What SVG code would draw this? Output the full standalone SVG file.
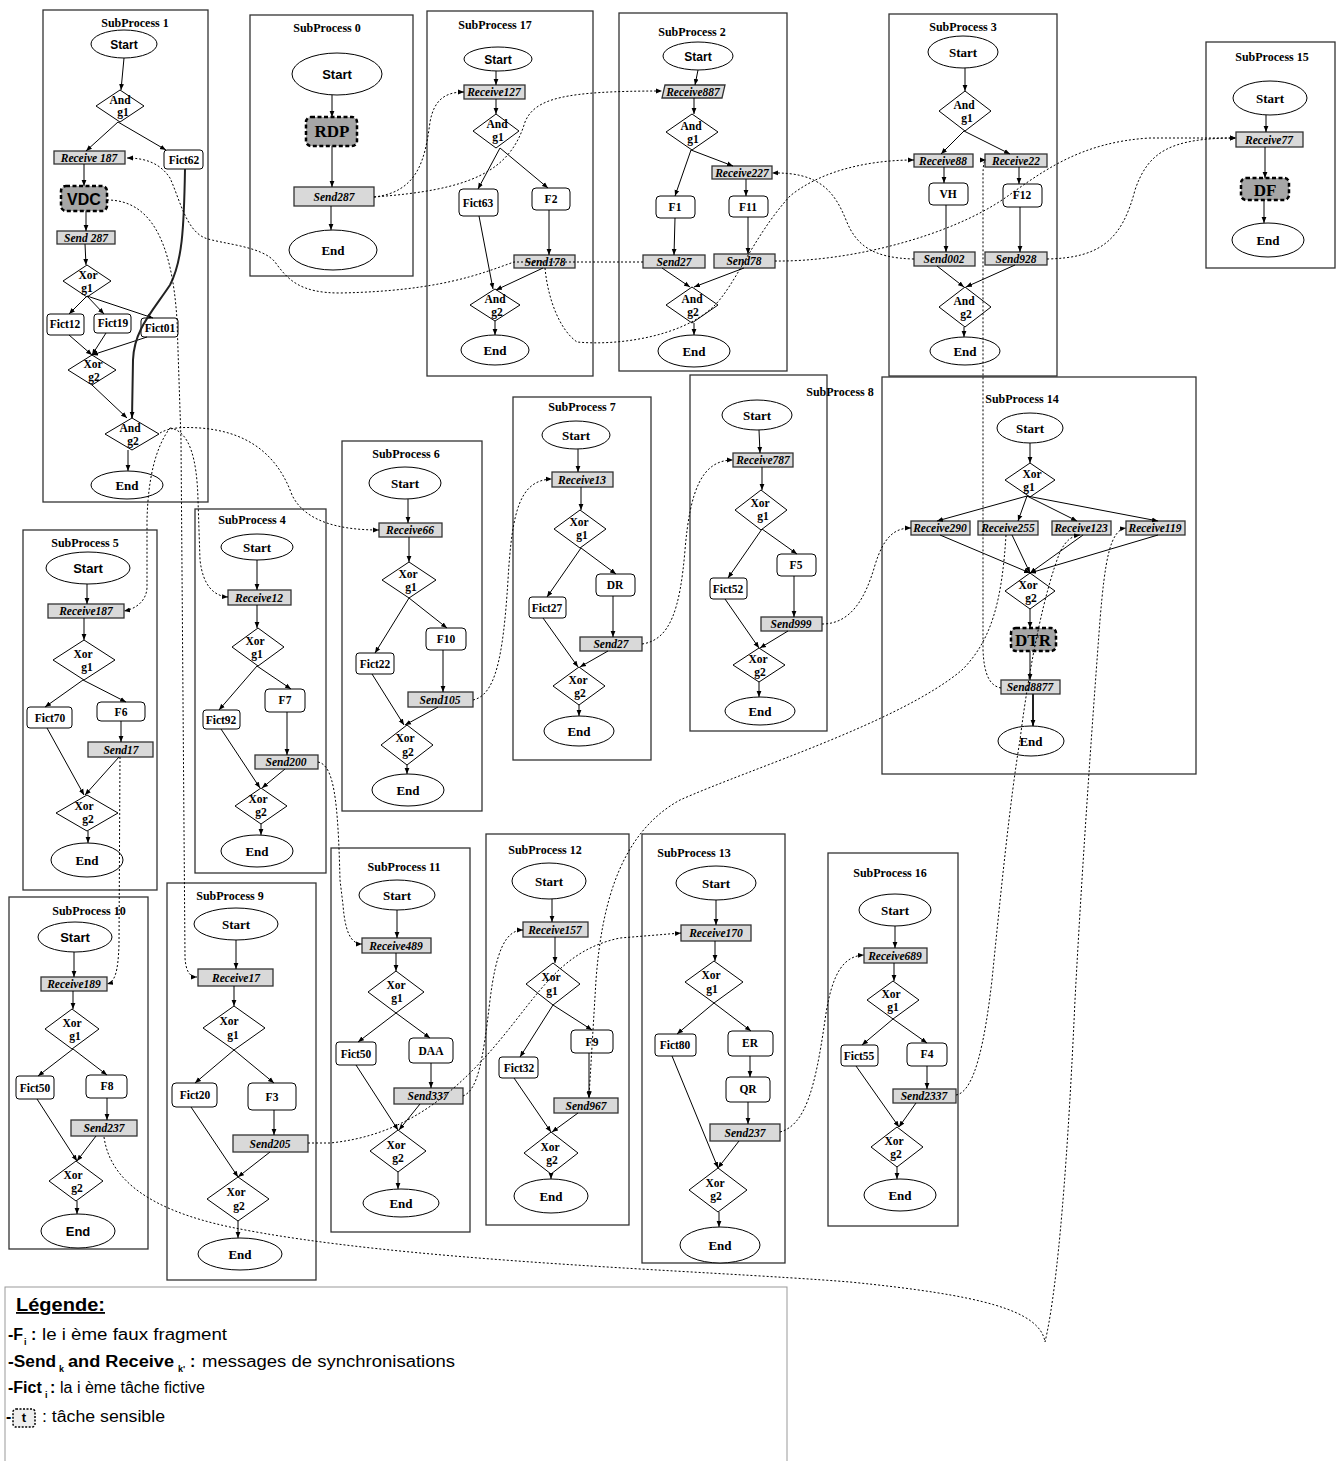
<svg xmlns="http://www.w3.org/2000/svg" width="1336" height="1461" viewBox="0 0 1336 1461">
<defs>
<marker id="a" viewBox="0 0 10 10" refX="10" refY="5" markerWidth="6" markerHeight="6" orient="auto" markerUnits="userSpaceOnUse"><path d="M0,1 L10,5 L0,9 z" fill="#000"/></marker>
<style>
.frame{fill:none;stroke:#333;stroke-width:1.3}
.title{font:bold 12px "Liberation Serif",serif;text-anchor:middle;fill:#000}
.ev{fill:#fff;stroke:#000;stroke-width:1}
.et{font:bold 13px "Liberation Serif",serif;text-anchor:middle}
.es{font:bold 12px "Liberation Sans",sans-serif;text-anchor:middle}
.gw{fill:#fff;stroke:#000;stroke-width:1}
.gt{font:bold 11.5px "Liberation Serif",serif;text-anchor:middle}
.task{fill:#fff;stroke:#000;stroke-width:1}
.tt{font:bold 11.5px "Liberation Serif",serif;text-anchor:middle}
.msg{fill:#d9d9d9;stroke:#333;stroke-width:1.3}
.mt{font:italic bold 11.5px "Liberation Serif",serif;text-anchor:middle}
.sens{fill:#a6a6a6;stroke:#000;stroke-width:2.5;stroke-dasharray:4 2.5}
.st{font:bold 17px "Liberation Serif",serif;text-anchor:middle}
.e{fill:none;stroke:#000;stroke-width:1;marker-end:url(#a)}
.eb{fill:none;stroke:#222;stroke-width:2;marker-end:url(#a)}
.d{fill:none;stroke:#000;stroke-width:1;stroke-dasharray:2 2;marker-end:url(#a)}
.lg{font:16px "Liberation Sans",sans-serif}
.lb{font:bold 16px "Liberation Sans",sans-serif}
.ls{font:bold 9px "Liberation Sans",sans-serif}
</style>
</defs>
<rect width="1336" height="1461" fill="#fff"/>

<!-- SubProcess 1 -->
<g id="sp1"><rect class="frame" x="43" y="10" width="165" height="492"/><text class="title" x="135" y="27">SubProcess 1</text>
<g id="sp1-start"><ellipse class="ev" cx="124" cy="44" rx="33" ry="14"/><text class="es" x="124" y="49">Start</text></g>
<g id="sp1-andg1"><polygon class="gw" points="120,90 144,106 120,122 96,106"/><text class="gt" x="120" y="104">And</text><text class="gt" x="123" y="116">g1</text></g>
<g id="sp1-rcv187"><rect class="msg" x="54" y="151" width="71" height="13"/><text class="mt" x="89" y="161.5">Receive 187</text></g>
<g id="sp1-fict62"><rect class="task" x="164" y="150" width="39" height="19" rx="3"/><text class="tt" x="184" y="164">Fict62</text></g>
<g id="sp1-vdc"><rect class="sens" x="61" y="186" width="46" height="25" rx="5"/><text x="84" y="204.5" style="font:bold 16px 'Liberation Sans',sans-serif;text-anchor:middle">VDC</text></g>
<g id="sp1-send287"><rect class="msg" x="57" y="231" width="58" height="13"/><text class="mt" x="86" y="241.5">Send 287</text></g>
<g id="sp1-xorg1"><polygon class="gw" points="87,265 111,281 87,297 63,281"/><text class="gt" x="88" y="279">Xor</text><text class="gt" x="87" y="292">g1</text></g>
<g id="sp1-fict12"><rect class="task" x="47" y="314" width="37" height="21" rx="3"/><text class="tt" x="65" y="328">Fict12</text></g>
<g id="sp1-fict19"><rect class="task" x="94" y="314" width="37" height="19" rx="3"/><text class="tt" x="113" y="327">Fict19</text></g>
<g id="sp1-fict01"><rect class="task" x="141" y="318" width="37" height="19" rx="3"/><text class="tt" x="160" y="332">Fict01</text></g>
<g id="sp1-xorg2"><polygon class="gw" points="92,355 116,370 92,385 68,370"/><text class="gt" x="93" y="368">Xor</text><text class="gt" x="94" y="381">g2</text></g>
<g id="sp1-andg2"><polygon class="gw" points="132,418 159,434 132,450 105,434"/><text class="gt" x="130" y="432">And</text><text class="gt" x="133" y="445">g2</text></g>
<g id="sp1-end"><ellipse class="ev" cx="127" cy="485" rx="36" ry="14"/><text class="et" x="127" y="489.5">End</text></g>
</g>

<!-- SubProcess 0 -->
<g id="sp0"><rect class="frame" x="250" y="15" width="163" height="261"/><text class="title" x="327" y="32">SubProcess 0</text>
<g id="sp0-start"><ellipse class="ev" cx="337" cy="74" rx="45" ry="21"/><text class="es" x="337" y="79" style="font-size:13px">Start</text></g>
<g id="sp0-rdp"><rect class="sens" x="306" y="117" width="51" height="29" rx="5"/><text class="st" x="332" y="137">RDP</text></g>
<g id="sp0-send287"><rect class="msg" x="294" y="187" width="80" height="19"/><text class="mt" x="334" y="200.5">Send287</text></g>
<g id="sp0-end"><ellipse class="ev" cx="333" cy="250" rx="44" ry="20"/><text class="et" x="333" y="255">End</text></g>
</g>

<!-- SubProcess 17 -->
<g id="sp17"><rect class="frame" x="427" y="11" width="166" height="365"/><text class="title" x="495" y="29">SubProcess 17</text>
<g id="sp17-start"><ellipse class="ev" cx="498" cy="59" rx="34" ry="12"/><text class="es" x="498" y="64">Start</text></g>
<g id="sp17-rcv127"><rect class="msg" x="464" y="85" width="61" height="14"/><text class="mt" x="494" y="96">Receive127</text></g>
<g id="sp17-andg1"><polygon class="gw" points="496,114 519,131 496,148 473,131"/><text class="gt" x="497" y="128">And</text><text class="gt" x="498" y="141">g1</text></g>
<g id="sp17-fict63"><rect class="task" x="459" y="189" width="39" height="27" rx="4"/><text class="tt" x="478" y="207">Fict63</text></g>
<g id="sp17-f2"><rect class="task" x="532" y="188" width="38" height="22" rx="4"/><text class="tt" x="551" y="203">F2</text></g>
<g id="sp17-send178"><rect class="msg" x="514" y="255" width="61" height="13"/><text class="mt" x="545" y="265.5">Send178</text></g>
<g id="sp17-andg2"><polygon class="gw" points="495,289 520,305 495,321 470,305"/><text class="gt" x="495" y="303">And</text><text class="gt" x="497" y="316">g2</text></g>
<g id="sp17-end"><ellipse class="ev" cx="495" cy="350" rx="34" ry="15"/><text class="et" x="495" y="355">End</text></g>
</g>

<!-- SubProcess 2 -->
<g id="sp2"><rect class="frame" x="619" y="13" width="168" height="358"/><text class="title" x="692" y="36">SubProcess 2</text>
<g id="sp2-start"><ellipse class="ev" cx="698" cy="56" rx="35" ry="14"/><text class="es" x="698" y="61">Start</text></g>
<g id="sp2-rcv887"><polygon class="msg" points="665,85 725,85 722,98 662,98"/><text class="mt" x="693" y="95.5">Receive887</text></g>
<g id="sp2-andg1"><polygon class="gw" points="692,114 718,132 692,150 666,132"/><text class="gt" x="691" y="130">And</text><text class="gt" x="693" y="143">g1</text></g>
<g id="sp2-rcv227"><rect class="msg" x="712" y="166" width="60" height="13"/><text class="mt" x="742" y="176.5">Receive227</text></g>
<g id="sp2-f1"><rect class="task" x="656" y="196" width="39" height="22" rx="4"/><text class="tt" x="675" y="211">F1</text></g>
<g id="sp2-f11"><rect class="task" x="729" y="196" width="39" height="21" rx="4"/><text class="tt" x="748" y="211">F11</text></g>
<g id="sp2-send27"><rect class="msg" x="643" y="255" width="62" height="13"/><text class="mt" x="674" y="265.5">Send27</text></g>
<g id="sp2-send78"><rect class="msg" x="714" y="254" width="61" height="14"/><text class="mt" x="744" y="265">Send78</text></g>
<g id="sp2-andg2"><polygon class="gw" points="692,287 718,305 692,323 666,305"/><text class="gt" x="692" y="303">And</text><text class="gt" x="693" y="316">g2</text></g>
<g id="sp2-end"><ellipse class="ev" cx="694" cy="351" rx="36" ry="16"/><text class="et" x="694" y="356">End</text></g>
</g>

<!-- SubProcess 3 -->
<g id="sp3"><rect class="frame" x="889" y="14" width="168" height="362"/><text class="title" x="963" y="31">SubProcess 3</text>
<g id="sp3-start"><ellipse class="ev" cx="963" cy="52" rx="35" ry="16"/><text class="et" x="963" y="57">Start</text></g>
<g id="sp3-andg1"><polygon class="gw" points="965,91 991,111 965,131 939,111"/><text class="gt" x="964" y="109">And</text><text class="gt" x="967" y="122">g1</text></g>
<g id="sp3-rcv88"><rect class="msg" x="914" y="154" width="59" height="13"/><text class="mt" x="943" y="164.5">Receive88</text></g>
<g id="sp3-rcv22"><rect class="msg" x="985" y="154" width="62" height="13"/><text class="mt" x="1016" y="164.5">Receive22</text></g>
<g id="sp3-vh"><rect class="task" x="929" y="183" width="39" height="22" rx="4"/><text class="tt" x="948" y="198">VH</text></g>
<g id="sp3-f12"><rect class="task" x="1003" y="184" width="39" height="23" rx="4"/><text class="tt" x="1022" y="199">F12</text></g>
<g id="sp3-send002"><rect class="msg" x="914" y="252" width="61" height="14"/><text class="mt" x="944" y="263">Send002</text></g>
<g id="sp3-send928"><rect class="msg" x="985" y="252" width="62" height="13"/><text class="mt" x="1016" y="262.5">Send928</text></g>
<g id="sp3-andg2"><polygon class="gw" points="965,287 991,307 965,327 939,307"/><text class="gt" x="964" y="305">And</text><text class="gt" x="966" y="318">g2</text></g>
<g id="sp3-end"><ellipse class="ev" cx="965" cy="351" rx="35" ry="14"/><text class="et" x="965" y="356">End</text></g>
</g>

<!-- SubProcess 15 -->
<g id="sp15"><rect class="frame" x="1206" y="42" width="129" height="226"/><text class="title" x="1272" y="61">SubProcess 15</text>
<g id="sp15-start"><ellipse class="ev" cx="1270" cy="98" rx="37" ry="17"/><text class="et" x="1270" y="103">Start</text></g>
<g id="sp15-rcv77"><rect class="msg" x="1236" y="132" width="67" height="15"/><text class="mt" x="1269" y="143.5">Receive77</text></g>
<g id="sp15-df"><rect class="sens" x="1241" y="178" width="48" height="22" rx="5"/><text class="st" x="1265" y="195.5">DF</text></g>
<g id="sp15-end"><ellipse class="ev" cx="1268" cy="240" rx="36" ry="17"/><text class="et" x="1268" y="245">End</text></g>
</g>

<!-- SubProcess 8 -->
<g id="sp8"><rect class="frame" x="690" y="375" width="137" height="356"/><text class="title" x="840" y="396">SubProcess 8</text>
<g id="sp8-start"><ellipse class="ev" cx="757" cy="415" rx="35" ry="15"/><text class="et" x="757" y="420">Start</text></g>
<g id="sp8-rcv787"><rect class="msg" x="733" y="453" width="60" height="14"/><text class="mt" x="763" y="464">Receive787</text></g>
<g id="sp8-xorg1"><polygon class="gw" points="761,490 787,510 761,530 735,510"/><text class="gt" x="760" y="507">Xor</text><text class="gt" x="763" y="520">g1</text></g>
<g id="sp8-f5"><rect class="task" x="777" y="554" width="39" height="22" rx="4"/><text class="tt" x="796" y="569">F5</text></g>
<g id="sp8-fict52"><rect class="task" x="710" y="578" width="37" height="21" rx="3"/><text class="tt" x="728" y="593">Fict52</text></g>
<g id="sp8-send999"><rect class="msg" x="761" y="617" width="61" height="14"/><text class="mt" x="791" y="628">Send999</text></g>
<g id="sp8-xorg2"><polygon class="gw" points="759,648 785,665 759,682 733,665"/><text class="gt" x="758" y="663">Xor</text><text class="gt" x="760" y="676">g2</text></g>
<g id="sp8-end"><ellipse class="ev" cx="760" cy="711" rx="35" ry="14"/><text class="et" x="760" y="716">End</text></g>
</g>

<!-- SubProcess 14 -->
<g id="sp14"><rect class="frame" x="882" y="377" width="314" height="397"/><text class="title" x="1022" y="403">SubProcess 14</text>
<g id="sp14-start"><ellipse class="ev" cx="1030" cy="428" rx="33" ry="15"/><text class="et" x="1030" y="433">Start</text></g>
<g id="sp14-xorg1"><polygon class="gw" points="1030,463 1055,480 1030,497 1005,480"/><text class="gt" x="1032" y="478">Xor</text><text class="gt" x="1029" y="491">g1</text></g>
<g id="sp14-rcv290"><rect class="msg" x="911" y="521" width="59" height="14"/><text class="mt" x="940" y="532">Receive290</text></g>
<g id="sp14-rcv255"><rect class="msg" x="978" y="521" width="60" height="14"/><text class="mt" x="1008" y="532">Receive255</text></g>
<g id="sp14-rcv123"><rect class="msg" x="1052" y="521" width="59" height="14"/><text class="mt" x="1081" y="532">Receive123</text></g>
<g id="sp14-rcv119"><rect class="msg" x="1126" y="521" width="59" height="14"/><text class="mt" x="1155" y="532">Receive119</text></g>
<g id="sp14-xorg2"><polygon class="gw" points="1030,573 1055,591 1030,609 1005,591"/><text class="gt" x="1028" y="589">Xor</text><text class="gt" x="1031" y="602">g2</text></g>
<g id="sp14-dtr"><rect class="sens" x="1011" y="628" width="45" height="23" rx="5"/><text class="st" x="1033" y="645.5">DTR</text></g>
<g id="sp14-send8877"><rect class="msg" x="1001" y="680" width="59" height="14"/><text class="mt" x="1030" y="691">Send8877</text></g>
<g id="sp14-end"><ellipse class="ev" cx="1031" cy="741" rx="33" ry="15"/><text class="et" x="1031" y="746">End</text></g>
</g>

<!-- SubProcess 7 -->
<g id="sp7"><rect class="frame" x="513" y="397" width="138" height="363"/><text class="title" x="582" y="411">SubProcess 7</text>
<g id="sp7-start"><ellipse class="ev" cx="576" cy="435" rx="34" ry="14"/><text class="et" x="576" y="440">Start</text></g>
<g id="sp7-rcv13"><rect class="msg" x="552" y="472" width="61" height="15"/><text class="mt" x="582" y="483.5">Receive13</text></g>
<g id="sp7-xorg1"><polygon class="gw" points="580,510 606,529 580,548 554,529"/><text class="gt" x="579" y="526">Xor</text><text class="gt" x="582" y="539">g1</text></g>
<g id="sp7-dr"><rect class="task" x="596" y="574" width="39" height="22" rx="4"/><text class="tt" x="615" y="589">DR</text></g>
<g id="sp7-fict27"><rect class="task" x="529" y="597" width="37" height="21" rx="3"/><text class="tt" x="547" y="612">Fict27</text></g>
<g id="sp7-send27"><rect class="msg" x="580" y="637" width="62" height="14"/><text class="mt" x="611" y="648">Send27</text></g>
<g id="sp7-xorg2"><polygon class="gw" points="579,667 605,686 579,705 553,686"/><text class="gt" x="578" y="684">Xor</text><text class="gt" x="580" y="697">g2</text></g>
<g id="sp7-end"><ellipse class="ev" cx="579" cy="731" rx="35" ry="15"/><text class="et" x="579" y="736">End</text></g>
</g>

<!-- SubProcess 6 -->
<g id="sp6"><rect class="frame" x="342" y="441" width="140" height="370"/><text class="title" x="406" y="458">SubProcess 6</text>
<g id="sp6-start"><ellipse class="ev" cx="405" cy="483" rx="36" ry="16"/><text class="et" x="405" y="488">Start</text></g>
<g id="sp6-rcv66"><rect class="msg" x="379" y="523" width="63" height="14"/><text class="mt" x="410" y="534">Receive66</text></g>
<g id="sp6-xorg1"><polygon class="gw" points="409,562 436,580 409,598 382,580"/><text class="gt" x="408" y="578">Xor</text><text class="gt" x="411" y="591">g1</text></g>
<g id="sp6-f10"><rect class="task" x="426" y="628" width="40" height="22" rx="4"/><text class="tt" x="446" y="643">F10</text></g>
<g id="sp6-fict22"><rect class="task" x="356" y="653" width="38" height="21" rx="3"/><text class="tt" x="375" y="668">Fict22</text></g>
<g id="sp6-send105"><rect class="msg" x="408" y="692" width="65" height="15"/><text class="mt" x="440" y="703.5">Send105</text></g>
<g id="sp6-xorg2"><polygon class="gw" points="407,725 433,745 407,765 381,745"/><text class="gt" x="405" y="742">Xor</text><text class="gt" x="408" y="756">g2</text></g>
<g id="sp6-end"><ellipse class="ev" cx="408" cy="790" rx="36" ry="16"/><text class="et" x="408" y="795">End</text></g>
</g>

<!-- SubProcess 5 -->
<g id="sp5"><rect class="frame" x="23" y="530" width="134" height="360"/><text class="title" x="85" y="547">SubProcess 5</text>
<g id="sp5-start"><ellipse class="ev" cx="88" cy="568" rx="42" ry="16"/><text class="es" x="88" y="573" style="font-size:13px">Start</text></g>
<g id="sp5-rcv187"><rect class="msg" x="48" y="604" width="76" height="14"/><text class="mt" x="86" y="615">Receive187</text></g>
<g id="sp5-xorg1"><polygon class="gw" points="84,640 115,660 84,680 53,660"/><text class="gt" x="83" y="658">Xor</text><text class="gt" x="87" y="671">g1</text></g>
<g id="sp5-f6"><rect class="task" x="97" y="702" width="48" height="19" rx="4"/><text class="tt" x="121" y="716">F6</text></g>
<g id="sp5-fict70"><rect class="task" x="27" y="707" width="45" height="21" rx="3"/><text class="tt" x="50" y="722">Fict70</text></g>
<g id="sp5-send17"><rect class="msg" x="88" y="742" width="65" height="15"/><text class="mt" x="121" y="753.5">Send17</text></g>
<g id="sp5-xorg2"><polygon class="gw" points="87,795 118,813 87,831 56,813"/><text class="gt" x="84" y="810">Xor</text><text class="gt" x="88" y="823">g2</text></g>
<g id="sp5-end"><ellipse class="ev" cx="87" cy="860" rx="36" ry="17"/><text class="et" x="87" y="865">End</text></g>
</g>

<!-- SubProcess 4 -->
<g id="sp4"><rect class="frame" x="195" y="509" width="131" height="364"/><text class="title" x="252" y="524">SubProcess 4</text>
<g id="sp4-start"><ellipse class="ev" cx="257" cy="547" rx="36" ry="13"/><text class="et" x="257" y="552">Start</text></g>
<g id="sp4-rcv12"><rect class="msg" x="228" y="590" width="63" height="15"/><text class="mt" x="259" y="601.5">Receive12</text></g>
<g id="sp4-xorg1"><polygon class="gw" points="258,628 284,647 258,666 232,647"/><text class="gt" x="255" y="645">Xor</text><text class="gt" x="257" y="658">g1</text></g>
<g id="sp4-f7"><rect class="task" x="265" y="689" width="40" height="23" rx="4"/><text class="tt" x="285" y="704">F7</text></g>
<g id="sp4-fict92"><rect class="task" x="203" y="710" width="37" height="19" rx="3"/><text class="tt" x="221" y="724">Fict92</text></g>
<g id="sp4-send200"><rect class="msg" x="255" y="755" width="63" height="14"/><text class="mt" x="286" y="766">Send200</text></g>
<g id="sp4-xorg2"><polygon class="gw" points="261,788 287,806 261,824 235,806"/><text class="gt" x="258" y="803">Xor</text><text class="gt" x="261" y="816">g2</text></g>
<g id="sp4-end"><ellipse class="ev" cx="257" cy="851" rx="36" ry="16"/><text class="et" x="257" y="856">End</text></g>
</g>

<!-- SubProcess 10 -->
<g id="sp10"><rect class="frame" x="9" y="897" width="139" height="352"/><text class="title" x="89" y="915">SubProcess 10</text>
<g id="sp10-start"><ellipse class="ev" cx="75" cy="937" rx="37" ry="15"/><text class="es" x="75" y="942" style="font-size:13px">Start</text></g>
<g id="sp10-rcv189"><rect class="msg" x="41" y="977" width="66" height="14"/><text class="mt" x="74" y="988">Receive189</text></g>
<g id="sp10-xorg1"><polygon class="gw" points="72,1009 99,1029 72,1049 45,1029"/><text class="gt" x="72" y="1027">Xor</text><text class="gt" x="75" y="1040">g1</text></g>
<g id="sp10-fict50"><rect class="task" x="16" y="1076" width="38" height="23" rx="3"/><text class="tt" x="35" y="1092">Fict50</text></g>
<g id="sp10-f8"><rect class="task" x="86" y="1075" width="41" height="23" rx="4"/><text class="tt" x="107" y="1090">F8</text></g>
<g id="sp10-send237"><rect class="msg" x="71" y="1120" width="66" height="16"/><text class="mt" x="104" y="1132">Send237</text></g>
<g id="sp10-xorg2"><polygon class="gw" points="76,1161 103,1181 76,1201 49,1181"/><text class="gt" x="73" y="1179">Xor</text><text class="gt" x="77" y="1192">g2</text></g>
<g id="sp10-end"><ellipse class="ev" cx="78" cy="1231" rx="37" ry="17"/><text class="es" x="78" y="1236" style="font-size:13px">End</text></g>
</g>

<!-- SubProcess 9 -->
<g id="sp9"><rect class="frame" x="167" y="883" width="149" height="397"/><text class="title" x="230" y="900">SubProcess 9</text>
<g id="sp9-start"><ellipse class="ev" cx="236" cy="924" rx="42" ry="16"/><text class="et" x="236" y="929">Start</text></g>
<g id="sp9-rcv17"><rect class="msg" x="198" y="969" width="75" height="17"/><text class="mt" x="236" y="981.5">Receive17</text></g>
<g id="sp9-xorg1"><polygon class="gw" points="234,1006 265,1028 234,1050 203,1028"/><text class="gt" x="229" y="1025">Xor</text><text class="gt" x="233" y="1039">g1</text></g>
<g id="sp9-fict20"><rect class="task" x="172" y="1083" width="45" height="24" rx="4"/><text class="tt" x="195" y="1099">Fict20</text></g>
<g id="sp9-f3"><rect class="task" x="248" y="1083" width="48" height="27" rx="4"/><text class="tt" x="272" y="1101">F3</text></g>
<g id="sp9-send205"><rect class="msg" x="233" y="1135" width="75" height="17"/><text class="mt" x="270" y="1147.5">Send205</text></g>
<g id="sp9-xorg2"><polygon class="gw" points="238,1177 269,1199 238,1221 207,1199"/><text class="gt" x="236" y="1196">Xor</text><text class="gt" x="239" y="1210">g2</text></g>
<g id="sp9-end"><ellipse class="ev" cx="240" cy="1254" rx="42" ry="16"/><text class="et" x="240" y="1259">End</text></g>
</g>

<!-- SubProcess 11 -->
<g id="sp11"><rect class="frame" x="331" y="848" width="139" height="384"/><text class="title" x="404" y="871">SubProcess 11</text>
<g id="sp11-start"><ellipse class="ev" cx="397" cy="895" rx="38" ry="15"/><text class="et" x="397" y="900">Start</text></g>
<g id="sp11-rcv489"><rect class="msg" x="362" y="938" width="69" height="15"/><text class="mt" x="396" y="949.5">Receive489</text></g>
<g id="sp11-xorg1"><polygon class="gw" points="396,971 424,992 396,1013 368,992"/><text class="gt" x="396" y="989">Xor</text><text class="gt" x="397" y="1002">g1</text></g>
<g id="sp11-fict50"><rect class="task" x="336" y="1042" width="40" height="23" rx="3"/><text class="tt" x="356" y="1058">Fict50</text></g>
<g id="sp11-daa"><rect class="task" x="409" y="1038" width="44" height="25" rx="4"/><text class="tt" x="431" y="1055">DAA</text></g>
<g id="sp11-send337"><rect class="msg" x="394" y="1088" width="69" height="16"/><text class="mt" x="428" y="1100">Send337</text></g>
<g id="sp11-xorg2"><polygon class="gw" points="398,1130 426,1151 398,1172 370,1151"/><text class="gt" x="396" y="1149">Xor</text><text class="gt" x="398" y="1162">g2</text></g>
<g id="sp11-end"><ellipse class="ev" cx="401" cy="1203" rx="38" ry="14"/><text class="et" x="401" y="1208">End</text></g>
</g>

<!-- SubProcess 12 -->
<g id="sp12"><rect class="frame" x="486" y="834" width="143" height="391"/><text class="title" x="545" y="854">SubProcess 12</text>
<g id="sp12-start"><ellipse class="ev" cx="549" cy="881" rx="37" ry="18"/><text class="et" x="549" y="886">Start</text></g>
<g id="sp12-rcv157"><rect class="msg" x="523" y="922" width="65" height="15"/><text class="mt" x="555" y="933.5">Receive157</text></g>
<g id="sp12-xorg1"><polygon class="gw" points="553,963 580,984 553,1005 526,984"/><text class="gt" x="551" y="981">Xor</text><text class="gt" x="552" y="995">g1</text></g>
<g id="sp12-f9"><rect class="task" x="571" y="1030" width="42" height="23" rx="4"/><text class="tt" x="592" y="1046">F9</text></g>
<g id="sp12-fict32"><rect class="task" x="499" y="1057" width="39" height="21" rx="3"/><text class="tt" x="519" y="1072">Fict32</text></g>
<g id="sp12-send967"><rect class="msg" x="554" y="1098" width="64" height="15"/><text class="mt" x="586" y="1109.5">Send967</text></g>
<g id="sp12-xorg2"><polygon class="gw" points="551,1132 578,1153 551,1174 524,1153"/><text class="gt" x="550" y="1151">Xor</text><text class="gt" x="552" y="1164">g2</text></g>
<g id="sp12-end"><ellipse class="ev" cx="551" cy="1196" rx="37" ry="17"/><text class="et" x="551" y="1201">End</text></g>
</g>

<!-- SubProcess 13 -->
<g id="sp13"><rect class="frame" x="642" y="834" width="143" height="429"/><text class="title" x="694" y="857">SubProcess 13</text>
<g id="sp13-start"><ellipse class="ev" cx="716" cy="883" rx="40" ry="17"/><text class="et" x="716" y="888">Start</text></g>
<g id="sp13-rcv170"><rect class="msg" x="681" y="925" width="70" height="16"/><text class="mt" x="716" y="937">Receive170</text></g>
<g id="sp13-xorg1"><polygon class="gw" points="714,961 743,982 714,1003 685,982"/><text class="gt" x="711" y="979">Xor</text><text class="gt" x="712" y="993">g1</text></g>
<g id="sp13-fict80"><rect class="task" x="655" y="1034" width="41" height="22" rx="3"/><text class="tt" x="675" y="1049">Fict80</text></g>
<g id="sp13-er"><rect class="task" x="728" y="1031" width="45" height="25" rx="4"/><text class="tt" x="750" y="1047">ER</text></g>
<g id="sp13-qr"><rect class="task" x="726" y="1077" width="44" height="25" rx="4"/><text class="tt" x="748" y="1093">QR</text></g>
<g id="sp13-send237"><rect class="msg" x="710" y="1124" width="70" height="17"/><text class="mt" x="745" y="1136.5">Send237</text></g>
<g id="sp13-xorg2"><polygon class="gw" points="718,1168 747,1190 718,1212 689,1190"/><text class="gt" x="715" y="1187">Xor</text><text class="gt" x="716" y="1200">g2</text></g>
<g id="sp13-end"><ellipse class="ev" cx="720" cy="1245" rx="40" ry="18"/><text class="et" x="720" y="1250">End</text></g>
</g>

<!-- SubProcess 16 -->
<g id="sp16"><rect class="frame" x="828" y="853" width="130" height="373"/><text class="title" x="890" y="877">SubProcess 16</text>
<g id="sp16-start"><ellipse class="ev" cx="895" cy="910" rx="36" ry="16"/><text class="et" x="895" y="915">Start</text></g>
<g id="sp16-rcv689"><rect class="msg" x="864" y="948" width="63" height="15"/><text class="mt" x="895" y="959.5">Receive689</text></g>
<g id="sp16-xorg1"><polygon class="gw" points="893,981 919,1000 893,1019 867,1000"/><text class="gt" x="891" y="998">Xor</text><text class="gt" x="893" y="1011">g1</text></g>
<g id="sp16-fict55"><rect class="task" x="841" y="1045" width="37" height="21" rx="3"/><text class="tt" x="859" y="1060">Fict55</text></g>
<g id="sp16-f4"><rect class="task" x="907" y="1043" width="40" height="23" rx="4"/><text class="tt" x="927" y="1058">F4</text></g>
<g id="sp16-send2337"><rect class="msg" x="893" y="1089" width="63" height="14"/><text class="mt" x="924" y="1100">Send2337</text></g>
<g id="sp16-xorg2"><polygon class="gw" points="897,1127 923,1147 897,1167 871,1147"/><text class="gt" x="894" y="1145">Xor</text><text class="gt" x="896" y="1158">g2</text></g>
<g id="sp16-end"><ellipse class="ev" cx="900" cy="1195" rx="36" ry="16"/><text class="et" x="900" y="1200">End</text></g>
</g>

<!-- Connectors -->
<g id="connectors">
<path class="e" d="M124,58 L121,90"/>
<path class="e" d="M118,122 L86,151"/>
<path class="e" d="M118,122 L166,150"/>
<path class="e" d="M84,164 L84,186"/>
<path class="e" d="M86,211 L86,231"/>
<path class="e" d="M85,244 L86,265"/>
<path class="e" d="M87,296 L69,314"/>
<path class="e" d="M87,296 L104,314"/>
<path class="e" d="M87,296 L153,318"/>
<path class="e" d="M69,335 L92,355"/>
<path class="e" d="M106,333 L92,355"/>
<path class="e" d="M147,337 L92,355"/>
<path class="e" d="M92,385 L127,418"/>
<path class="eb" d="M185,169 C184,230 182,262 170,285 C152,312 134,330 133,360 L132,418"/>
<path class="e" d="M128,450 L128,471"/>
<path class="e" d="M332,95 L332,117"/>
<path class="e" d="M332,146 L332,187"/>
<path class="e" d="M331,206 L331,230"/>
<path class="e" d="M496,71 L496,85"/>
<path class="e" d="M496,99 L496,114"/>
<path class="e" d="M500,148 L478,189"/>
<path class="e" d="M500,148 L548,188"/>
<path class="e" d="M479,216 L493,289"/>
<path class="e" d="M549,210 L549,255"/>
<path class="e" d="M543,268 L496,290"/>
<path class="e" d="M495,321 L495,335"/>
<path class="e" d="M698,70 L695,85"/>
<path class="e" d="M694,98 L694,114"/>
<path class="e" d="M691,150 L675,196"/>
<path class="e" d="M691,150 L733,166"/>
<path class="e" d="M675,218 L674,255"/>
<path class="e" d="M746,179 L746,196"/>
<path class="e" d="M748,217 L748,254"/>
<path class="e" d="M662,268 L690,287"/>
<path class="e" d="M744,268 L694,287"/>
<path class="e" d="M694,323 L694,335"/>
<path class="e" d="M965,68 L965,91"/>
<path class="e" d="M964,131 L941,154"/>
<path class="e" d="M964,131 L1010,154"/>
<path class="e" d="M944,167 L944,183"/>
<path class="e" d="M946,205 L946,252"/>
<path class="e" d="M1019,167 L1019,184"/>
<path class="e" d="M1020,207 L1020,252"/>
<path class="e" d="M937,266 L964,287"/>
<path class="e" d="M1015,265 L966,287"/>
<path class="e" d="M964,327 L964,337"/>
<path class="e" d="M1266,115 L1266,132"/>
<path class="e" d="M1265,147 L1265,178"/>
<path class="e" d="M1264,200 L1264,223"/>
<path class="e" d="M759,430 L760,453"/>
<path class="e" d="M762,467 L762,490"/>
<path class="e" d="M762,529 L728,578"/>
<path class="e" d="M762,529 L797,554"/>
<path class="e" d="M794,576 L794,617"/>
<path class="e" d="M725,599 L759,648"/>
<path class="e" d="M788,631 L760,648"/>
<path class="e" d="M759,682 L759,697"/>
<path class="e" d="M1030,443 L1030,463"/>
<path class="e" d="M1027,496 L937,521"/>
<path class="e" d="M1027,496 L1018,521"/>
<path class="e" d="M1027,496 L1077,521"/>
<path class="e" d="M1027,496 L1158,521"/>
<path class="e" d="M940,535 L1030,573"/>
<path class="e" d="M1012,535 L1030,573"/>
<path class="e" d="M1083,535 L1030,573"/>
<path class="e" d="M1158,535 L1030,573"/>
<path class="e" d="M1030,609 L1030,628"/>
<path class="e" d="M1030,651 L1030,680"/>
<path class="eb" d="M1033,694 L1033,726"/>
<path class="e" d="M578,449 L578,472"/>
<path class="e" d="M581,487 L581,510"/>
<path class="e" d="M581,548 L547,597"/>
<path class="e" d="M581,548 L616,574"/>
<path class="e" d="M613,596 L613,637"/>
<path class="e" d="M543,618 L578,667"/>
<path class="e" d="M608,651 L580,667"/>
<path class="e" d="M579,705 L579,716"/>
<path class="e" d="M408,499 L408,523"/>
<path class="e" d="M409,537 L409,562"/>
<path class="e" d="M409,598 L375,653"/>
<path class="e" d="M409,598 L447,628"/>
<path class="e" d="M443,650 L443,692"/>
<path class="e" d="M372,674 L404,725"/>
<path class="e" d="M438,707 L405,725"/>
<path class="e" d="M407,765 L407,774"/>
<path class="e" d="M87,584 L87,604"/>
<path class="e" d="M84,618 L84,640"/>
<path class="e" d="M83,680 L45,707"/>
<path class="e" d="M83,680 L126,702"/>
<path class="e" d="M121,721 L121,742"/>
<path class="e" d="M47,728 L84,795"/>
<path class="e" d="M119,757 L85,795"/>
<path class="e" d="M88,831 L88,843"/>
<path class="e" d="M257,560 L257,590"/>
<path class="e" d="M257,605 L257,628"/>
<path class="e" d="M257,666 L219,710"/>
<path class="e" d="M257,666 L291,689"/>
<path class="e" d="M287,712 L287,755"/>
<path class="e" d="M221,729 L260,788"/>
<path class="e" d="M285,769 L262,788"/>
<path class="e" d="M261,824 L261,835"/>
<path class="e" d="M74,952 L74,977"/>
<path class="e" d="M73,991 L73,1009"/>
<path class="e" d="M73,1049 L38,1076"/>
<path class="e" d="M73,1049 L107,1075"/>
<path class="e" d="M107,1098 L107,1120"/>
<path class="e" d="M37,1099 L77,1161"/>
<path class="e" d="M96,1136 L77,1161"/>
<path class="e" d="M77,1201 L77,1214"/>
<path class="e" d="M236,940 L236,969"/>
<path class="e" d="M234,986 L234,1006"/>
<path class="e" d="M234,1050 L195,1083"/>
<path class="e" d="M234,1050 L274,1083"/>
<path class="e" d="M274,1110 L274,1135"/>
<path class="e" d="M191,1107 L238,1177"/>
<path class="e" d="M270,1152 L238,1177"/>
<path class="e" d="M238,1221 L238,1238"/>
<path class="e" d="M397,910 L397,938"/>
<path class="e" d="M396,953 L396,971"/>
<path class="e" d="M396,1013 L358,1042"/>
<path class="e" d="M396,1013 L430,1038"/>
<path class="e" d="M431,1063 L431,1088"/>
<path class="e" d="M356,1065 L398,1130"/>
<path class="e" d="M420,1104 L399,1130"/>
<path class="e" d="M398,1172 L398,1189"/>
<path class="e" d="M552,899 L552,922"/>
<path class="e" d="M555,937 L555,963"/>
<path class="e" d="M553,1005 L520,1057"/>
<path class="e" d="M553,1005 L592,1030"/>
<path class="e" d="M589,1053 L589,1098"/>
<path class="e" d="M514,1078 L551,1132"/>
<path class="e" d="M578,1113 L552,1132"/>
<path class="e" d="M551,1174 L551,1179"/>
<path class="e" d="M716,900 L716,925"/>
<path class="e" d="M715,941 L715,961"/>
<path class="e" d="M714,1003 L677,1034"/>
<path class="e" d="M714,1003 L751,1031"/>
<path class="e" d="M750,1056 L750,1077"/>
<path class="e" d="M748,1102 L748,1124"/>
<path class="e" d="M672,1056 L718,1168"/>
<path class="e" d="M739,1141 L718,1168"/>
<path class="e" d="M719,1212 L719,1227"/>
<path class="e" d="M895,926 L895,948"/>
<path class="e" d="M894,963 L894,981"/>
<path class="e" d="M893,1019 L862,1045"/>
<path class="e" d="M893,1019 L927,1043"/>
<path class="e" d="M927,1066 L927,1089"/>
<path class="e" d="M856,1066 L899,1127"/>
<path class="e" d="M916,1103 L899,1127"/>
<path class="e" d="M897,1167 L897,1179"/>

<path class="d" d="M374,197 C418,192 425,160 430,122 C434,100 445,92 464,92"/>
<path class="d" d="M374,197 C470,190 510,172 525,122 C535,98 565,91 662,91"/>
<path class="d" d="M643,262 L514,262 C480,274 440,291 340,293 C300,293 288,280 275,262 C262,246 222,244 205,238 C186,230 180,200 170,178 C160,163 145,158 127,158"/>
<path class="d" d="M107,200 C150,200 172,240 177,320 L181,440 L185,958 C186,972 190,977 197,977"/>
<path class="d" d="M160,433 C170,427 185,427 200,428 C240,431 275,448 292,495 C305,522 340,530 379,530"/>
<path class="d" d="M170,428 C155,448 148,480 147,520 L147,588 C146,602 135,609 124,611"/>
<path class="d" d="M170,428 C190,431 197,460 198,500 L200,560 C203,586 214,596 228,597"/>
<path class="d" d="M120,757 L119,945 C118,972 115,982 107,984"/>
<path class="d" d="M318,762 C334,765 338,800 340,880 L343,905 C345,930 350,944 362,944"/>
<path class="d" d="M473,700 C495,695 503,660 508,580 C512,510 520,480 552,479"/>
<path class="d" d="M642,644 C670,640 680,610 685,550 C690,490 702,460 733,460"/>
<path class="d" d="M822,624 C850,624 865,600 875,565 C884,536 895,528 911,528"/>
<path class="d" d="M1001,688 C990,686 984,675 983,650 L983,176 C983,165 984,160 986,160"/>
<path class="d" d="M914,259 C872,258 856,245 846,220 C834,190 818,172 772,173"/>
<path class="d" d="M545,268 C548,300 560,330 577,342 C620,346 682,336 713,307 C736,285 752,238 790,196 C822,170 870,160 914,160"/>
<path class="d" d="M775,261 C850,262 950,236 1005,198 C1042,172 1080,142 1150,138 L1236,138"/>
<path class="d" d="M1047,259 C1100,258 1122,240 1135,190 C1148,152 1170,138 1236,138"/>
<path class="d" d="M1006,535 C1002,600 992,640 962,670 C900,722 752,768 680,800 C622,832 602,900 596,980 L589,1097"/>
<path class="d" d="M956,1095 C975,1092 985,1040 992,980 C1000,900 1010,800 1020,740 C1030,660 1045,590 1060,552 C1066,540 1072,536 1080,535"/>
<path class="d" d="M104,1137 C110,1180 150,1210 230,1227 C400,1262 700,1270 850,1282 C980,1295 1040,1310 1045,1342 C1055,1300 1066,1200 1075,1000 C1083,850 1094,700 1100,620 C1105,560 1110,530 1126,528"/>
<path class="d" d="M308,1143 L330,1143 C400,1136 450,1100 500,1040 C540,992 562,950 620,938 L681,933"/>
<path class="d" d="M463,1096 C478,1090 483,1060 490,1000 C496,952 505,930 523,930"/>
<path class="d" d="M780,1132 C805,1125 815,1090 825,1020 C832,970 845,956 864,955"/>
</g>

<!-- Legend -->
<g id="legend">
<rect x="5" y="1287" width="782" height="180" fill="none" stroke="#999" stroke-width="1"/>
<text x="16" y="1311" textLength="89" lengthAdjust="spacingAndGlyphs" style="font:bold 18px 'Liberation Sans',sans-serif;text-decoration:underline">Légende:</text>
<text class="lb" x="8" y="1340">-F</text><text class="ls" x="24" y="1345">i</text><text class="lb" x="31" y="1340">:</text><text class="lg" x="42" y="1340" textLength="185" lengthAdjust="spacingAndGlyphs">le i ème faux fragment</text>
<text class="lb" x="8" y="1367" textLength="48" lengthAdjust="spacingAndGlyphs">-Send</text><text class="ls" x="59" y="1372">k</text><text class="lb" x="68" y="1367" textLength="106" lengthAdjust="spacingAndGlyphs">and Receive</text><text class="ls" x="178" y="1372">k'</text><text class="lb" x="190" y="1367">:</text><text class="lg" x="202" y="1367" textLength="253" lengthAdjust="spacingAndGlyphs">messages de synchronisations</text>
<text class="lb" x="8" y="1393">-Fict</text><text class="ls" x="45" y="1398">i</text><text class="lb" x="50" y="1393">:</text><text class="lg" x="60" y="1393" textLength="145" lengthAdjust="spacingAndGlyphs">la i ème tâche fictive</text>
<text class="lb" x="6" y="1422">-</text>
<rect x="13" y="1409" width="22" height="18" rx="3" fill="#eee" stroke="#000" stroke-width="1.5" stroke-dasharray="2 1.5"/>
<text x="24" y="1422" style="font:bold 13px 'Liberation Sans',sans-serif;text-anchor:middle">t</text>
<text class="lg" x="42" y="1422" textLength="123" lengthAdjust="spacingAndGlyphs">: tâche sensible</text>
</g>
</svg>
